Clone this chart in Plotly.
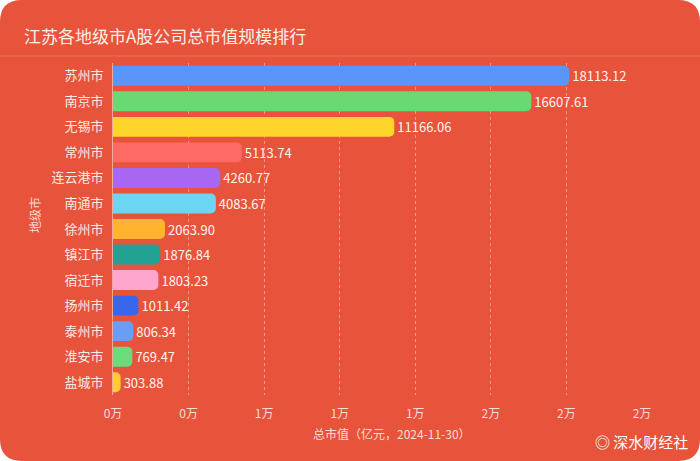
import plotly.graph_objects as go

cities = ["苏州市", "南京市", "无锡市", "常州市", "连云港市", "南通市", "徐州市",
          "镇江市", "宿迁市", "扬州市", "泰州市", "淮安市", "盐城市"]
values = [18113.12, 16607.61, 11166.06, 5113.74, 4260.77, 4083.67, 2063.90,
          1876.84, 1803.23, 1011.42, 806.34, 769.47, 303.88]
colors = ["#5B95F9", "#6AD974", "#FFD42A", "#FF6B64", "#A867F2", "#6AD6F2", "#FFB431",
          "#22A293", "#FFA6CE", "#3A66EE", "#6C9DF6", "#6BDB7C", "#FFCC33"]
tick_vals = [0, 3000, 6000, 9000, 12000, 15000, 18000, 21000]
tick_text = ["0万", "0万", "1万", "1万", "1万", "2万", "2万", "2万"]

BG = "#E8533B"
FONT = "Noto Sans CJK SC"
W, H = 700, 461
ML, MR, MT, MB = 113, 58, 63, 66
PW, PH = W - ML - MR, H - MT - MB


def px(x, y):
    return (x - ML) / PW, (H - MB - y) / PH


def card_path(r):
    pts = []
    x0, y0, x1, y1 = 0, 0, W, H
    seq = [("M", x0 + r, y0), ("L", x1 - r, y0), ("Q", x1, y0, x1, y0 + r),
           ("L", x1, y1 - r), ("Q", x1, y1, x1 - r, y1), ("L", x0 + r, y1),
           ("Q", x0, y1, x0, y1 - r), ("L", x0, y0 + r), ("Q", x0, y0, x0 + r, y0)]
    for s in seq:
        cmd = s[0]
        coords = s[1:]
        parts = []
        for i in range(0, len(coords), 2):
            a, b = px(coords[i], coords[i + 1])
            parts.append(f"{a:.5f},{b:.5f}")
        pts.append(cmd + " " + " ".join(parts))
    return " ".join(pts) + " Z"


fig = go.Figure(go.Bar(
    x=values, y=cities, orientation="h",
    marker=dict(color=colors, cornerradius=5, line=dict(width=0)),
    text=[f"{v:.2f}" for v in values], textposition="outside",
    textfont=dict(color="#FFF4EE", size=13, family=FONT),
    cliponaxis=False, hoverinfo="skip",
))

tx, ty = px(22, 35)
sx0, sy = px(0, 56)
sx1, _ = px(W, 56)
ax_x, ax_y = px(392, 433)
yt_x, yt_y = px(34, 215)
wm_x, wm_y = px(690, 441)

fig.update_layout(
    width=W, height=H,
    margin=dict(l=ML, r=MR, t=MT, b=MB),
    paper_bgcolor="white", plot_bgcolor="rgba(0,0,0,0)",
    bargap=0.22, showlegend=False,
    font=dict(family=FONT),
    shapes=[
        dict(type="path", xref="paper", yref="paper", layer="below",
             path=card_path(22), fillcolor=BG, line=dict(width=0)),
        dict(type="line", xref="paper", yref="paper", x0=sx0, x1=sx1,
             y0=sy, y1=sy, line=dict(color="rgba(255,255,255,0.15)", width=1)),
    ],
    annotations=[
        dict(text="江苏各地级市A股公司总市值规模排行", xref="paper", yref="paper",
             x=tx, y=ty, xanchor="left", yanchor="middle", showarrow=False,
             font=dict(size=17, color="#FDEEE8", family=FONT)),
        dict(text="总市值（亿元，2024-11-30）", xref="paper", yref="paper",
             x=ax_x, y=ax_y, xanchor="center", yanchor="middle", showarrow=False,
             font=dict(size=12, color="#F8DDD4", family=FONT)),
        dict(text="地级市", xref="paper", yref="paper", textangle=-90,
             x=yt_x, y=yt_y, xanchor="center", yanchor="middle", showarrow=False,
             font=dict(size=12, color="#F8DDD4", family=FONT)),
        dict(text="◎ 深水财经社", xref="paper", yref="paper",
             x=wm_x, y=wm_y, xanchor="right", yanchor="middle", showarrow=False,
             font=dict(size=15, color="#FFFFFF", family=FONT)),
    ],
)

fig.update_xaxes(range=[0, 21000], tickvals=tick_vals, ticktext=tick_text,
                 showgrid=True, gridcolor="rgba(255,255,255,0.4)", griddash="3px,3px",
                 gridwidth=1, zeroline=False, showline=False,
                 tickfont=dict(size=12, color="#F8DDD4", family=FONT),
                 ticks="outside", ticklen=8, tickcolor="rgba(0,0,0,0)")
fig.update_yaxes(autorange="reversed", showline=True, linecolor="rgba(255,255,255,0.5)",
                 linewidth=1, ticks="", showgrid=False,
                 tickfont=dict(size=13, color="#FBEAE3", family=FONT), ticklabelstandoff=6)

fig.write_html("out.html", config={"displayModeBar": False},
               post_script="document.body.style.margin='0';document.body.style.background='white';")
